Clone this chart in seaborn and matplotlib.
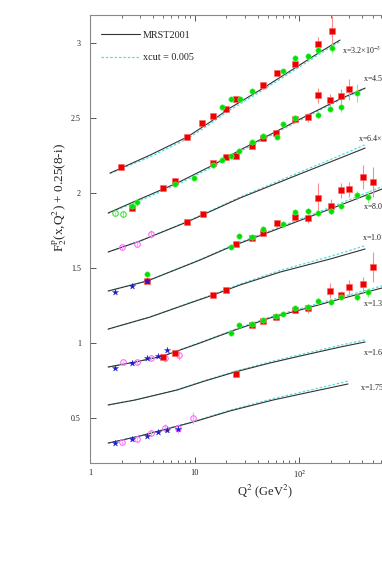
import matplotlib
matplotlib.use("Agg")
import matplotlib.pyplot as plt
import matplotlib.ticker as mticker
from matplotlib.lines import Line2D
import seaborn as sns

# MRST2001 curves (solid) and xcut = 0.005 curves (dashed), offset 0.25(8-i)
mrst_q1 = [1.55, 3.74, 8.44, 14.0, 21.7, 42.1, 81.3, 157, 244]
mrst_f1 = [2.135, 2.255, 2.375, 2.475, 2.569, 2.689, 2.815, 2.942, 3.022]
xcut_f1 = [2.132, 2.243, 2.362, 2.462, 2.556, 2.677, 2.803, 2.931, 3.012]

mrst_q2 = [1.49, 3.0, 6.8, 15.0, 27.1, 56, 126, 244, 424]
mrst_f2 = [1.869, 1.962, 2.069, 2.189, 2.289, 2.402, 2.529, 2.629, 2.702]
xcut_f2 = [1.866, 1.952, 2.058, 2.178, 2.279, 2.393, 2.521, 2.623, 2.698]

mrst_q3 = [1.49, 3.0, 8.44, 27.1, 101, 244, 424]
mrst_f3 = [1.609, 1.682, 1.809, 1.969, 2.129, 2.235, 2.302]
xcut_f3 = [1.609, 1.683, 1.812, 1.975, 2.141, 2.252, 2.324]

mrst_q4 = [1.49, 3.5, 11.2, 21.7, 65.3, 196, 615, 1000]
mrst_f4 = [1.349, 1.415, 1.555, 1.642, 1.769, 1.895, 2.029, 2.082]
xcut_f4 = [1.349, 1.416, 1.558, 1.647, 1.777, 1.906, 2.045, 2.099]

mrst_q5 = [1.49, 3.74, 9.02, 15.0, 27.1, 65.3, 196, 424]
mrst_f5 = [1.095, 1.175, 1.269, 1.322, 1.389, 1.475, 1.562, 1.629]
xcut_f5 = [1.095, 1.176, 1.272, 1.326, 1.395, 1.486, 1.579, 1.651]

mrst_q6 = [1.49, 2.69, 4.98, 11.2, 24.3, 52.4, 101, 244, 615, 1000]
mrst_f6 = [0.842, 0.875, 0.915, 1.002, 1.089, 1.169, 1.222, 1.295, 1.369, 1.402]
xcut_f6 = [0.842, 0.876, 0.917, 1.005, 1.094, 1.176, 1.231, 1.306, 1.383, 1.417]

mrst_q7 = [1.49, 2.69, 6.8, 12.5, 24.3, 52.4, 101, 244, 424]
mrst_f7 = [0.589, 0.622, 0.689, 0.749, 0.809, 0.869, 0.915, 0.975, 1.009]
xcut_f7 = [0.589, 0.623, 0.691, 0.752, 0.814, 0.876, 0.924, 0.987, 1.023]

mrst_q8 = [1.49, 3.0, 9.64, 21.7, 56, 126, 291]
mrst_f8 = [0.335, 0.382, 0.475, 0.549, 0.622, 0.675, 0.729]
xcut_f8 = [0.335, 0.383, 0.478, 0.554, 0.631, 0.688, 0.748]

bin_labels = ["x=3.2×10$^{-3}$", "x=4.5×10$^{-3}$", "x=6.4×10$^{-3}$", "x=8.0×10$^{-3}$",
              "x=1.0×10$^{-2}$", "x=1.3×10$^{-2}$", "x=1.6×10$^{-2}$", "x=1.75×10$^{-2}$"]
label_pos = [(255, 2.955), (405, 2.769), (363, 2.369), (405, 1.915),
             (396, 1.709), (405, 1.269), (405, 0.942), (379, 0.709)]

# H1 (red squares)
h1_q = [1.98, 8.44, 11.7, 15.0, 19.9, 24.8, 44.9, 61.1, 90.8, 151, 205,
        2.52, 4.98, 6.48, 15.0, 19.9, 24.8, 35.3, 44.9, 59.8, 90.8, 121, 151, 196, 250, 298,
        8.44, 12.0,
        3.50, 24.8, 35.3, 44.9, 61.1, 90.8, 121, 151, 200, 250, 298, 405, 505,
        15.0, 19.9,
        4.98, 6.48, 35.3, 44.9, 59.8, 90.8, 121, 196, 250, 298, 405, 505,
        24.8]
h1_f = [2.175, 2.375, 2.469, 2.515, 2.562, 2.629, 2.722, 2.802, 2.862, 2.995, 3.082,
        1.902, 2.035, 2.082, 2.202, 2.242, 2.249, 2.315, 2.369, 2.402, 2.495, 2.509, 2.655, 2.622, 2.649, 2.695,
        1.809, 1.862,
        1.415, 1.662, 1.702, 1.735, 1.802, 1.842, 1.835, 1.969, 1.915, 2.022, 2.029, 2.109, 2.075,
        1.322, 1.355,
        0.909, 0.935, 1.122, 1.149, 1.175, 1.222, 1.235, 1.349, 1.322, 1.375, 1.395, 1.509,
        0.795]
h1_err = [0.02, 0.015, 0.015, 0.015, 0.015, 0.015, 0.02, 0.02, 0.02, 0.05, 0.1,
          0.02, 0.015, 0.015, 0.015, 0.015, 0.015, 0.015, 0.015, 0.02, 0.02, 0.03, 0.05, 0.04, 0.05, 0.07,
          0.015, 0.015,
          0.015, 0.015, 0.015, 0.015, 0.02, 0.02, 0.03, 0.1, 0.05, 0.05, 0.05, 0.08, 0.1,
          0.015, 0.015,
          0.015, 0.015, 0.015, 0.015, 0.02, 0.02, 0.03, 0.05, 0.03, 0.05, 0.05, 0.1,
          0.015]

# ZEUS (green circles)
zeus_q = [18.2, 22.2, 27.1, 35.3, 69.7, 90.8, 121, 151, 205,
          2.52, 2.81, 6.48, 9.84, 15.0, 18.2, 22.2, 26.5, 35.3, 44.9, 61.1, 69.7, 90.8, 151, 196, 250, 355,
          3.50, 22.2, 26.5, 35.3, 44.9, 69.7, 90.8, 121, 151, 200, 250, 355, 452,
          22.2, 26.5, 35.3, 44.9, 59.8, 69.7, 90.8, 121, 151, 200, 250, 355, 452]
zeus_f = [2.575, 2.629, 2.629, 2.682, 2.815, 2.902, 2.915, 2.955, 2.969,
          1.915, 1.942, 2.062, 2.102, 2.189, 2.222, 2.249, 2.282, 2.342, 2.382, 2.375, 2.462, 2.502, 2.522, 2.562, 2.575, 2.669,
          1.462, 1.642, 1.715, 1.709, 1.762, 1.795, 1.875, 1.882, 1.869, 1.882, 1.915, 1.989, 1.975,
          1.069, 1.122, 1.129, 1.155, 1.182, 1.195, 1.235, 1.242, 1.282, 1.275, 1.309, 1.309, 1.342]
zeus_err = [0.015, 0.015, 0.015, 0.015, 0.015, 0.02, 0.02, 0.02, 0.03,
            0.015, 0.025, 0.015, 0.015, 0.015, 0.015, 0.015, 0.015, 0.015, 0.015, 0.015, 0.015, 0.02, 0.02, 0.02, 0.03, 0.06,
            0.015, 0.015, 0.015, 0.015, 0.015, 0.015, 0.015, 0.02, 0.02, 0.02, 0.02, 0.03, 0.04,
            0.015, 0.015, 0.015, 0.015, 0.015, 0.015, 0.015, 0.02, 0.02, 0.02, 0.02, 0.03, 0.03]

# E665 (blue stars)
e665_q = [1.73, 2.52, 3.50, 1.73, 2.52, 3.50, 4.46, 5.44, 1.73, 2.52, 3.50, 4.46, 5.44, 6.92]
e665_f = [1.342, 1.382, 1.415, 0.835, 0.869, 0.902, 0.915, 0.955, 0.335, 0.362, 0.382, 0.409, 0.422, 0.429]

# NMC (magenta open symbols)
nmc_q = [2.02, 2.81, 3.83, 2.07, 2.81, 3.83, 5.20, 7.08, 2.02, 2.81, 3.83, 5.20, 6.92, 9.64]
nmc_f = [1.642, 1.662, 1.729, 0.875, 0.875, 0.902, 0.902, 0.922, 0.342, 0.362, 0.402, 0.435, 0.435, 0.502]
nmc_err = [0.01, 0.012, 0.025, 0.01, 0.012, 0.015, 0.025, 0.03, 0.01, 0.012, 0.02, 0.025, 0.03, 0.04]

# low-Q green open symbols on the second bin
slac_q = [1.73, 2.07]
slac_f = [1.869, 1.862]
slac_err = [0.01, 0.02]

sns.set_style("ticks")
plt.rcParams['font.family'] = ['Liberation Serif', 'DejaVu Serif']
plt.rcParams['mathtext.fontset'] = 'stix'

fig = plt.figure(figsize=(3.82, 5.61), dpi=100)
ax = fig.add_axes([0.2356, 0.1752, 0.8223, 0.798])

mrst_q = [mrst_q1, mrst_q2, mrst_q3, mrst_q4, mrst_q5, mrst_q6, mrst_q7, mrst_q8]
mrst_f = [mrst_f1, mrst_f2, mrst_f3, mrst_f4, mrst_f5, mrst_f6, mrst_f7, mrst_f8]
xcut_f = [xcut_f1, xcut_f2, xcut_f3, xcut_f4, xcut_f5, xcut_f6, xcut_f7, xcut_f8]

for q, f, fc in zip(mrst_q, mrst_f, xcut_f):
    sns.lineplot(x=q, y=fc, ax=ax, color='#55dede', lw=0.9, linestyle=(0, (2, 1.5)),
                 estimator=None, sort=False)
    sns.lineplot(x=q, y=f, ax=ax, color='#333333', lw=0.8, estimator=None, sort=False)

for txt, (qx, fy) in zip(bin_labels, label_pos):
    ax.text(qx, fy, txt, fontsize=5.8, ha='left', va='center', color='#222222')

# error bars
ax.errorbar(h1_q, h1_f, yerr=h1_err, fmt='none', ecolor='#ff8c8c', elinewidth=0.8, zorder=3)
ax.errorbar(zeus_q, zeus_f, yerr=zeus_err, fmt='none', ecolor='#8cf08c', elinewidth=0.8, zorder=3)
ax.errorbar(nmc_q, nmc_f, yerr=nmc_err, fmt='none', ecolor='#ff9cff', elinewidth=0.8, zorder=3)
ax.errorbar(slac_q, slac_f, yerr=slac_err, fmt='none', ecolor='#8cf08c', elinewidth=0.8, zorder=3)

sns.scatterplot(x=h1_q, y=h1_f, ax=ax, marker='s', color='#ee0000', s=22,
                edgecolor='#ff6060', linewidth=0.4, zorder=5)
sns.scatterplot(x=zeus_q, y=zeus_f, ax=ax, marker='o', color='#00e000', s=15,
                edgecolor='#60f060', linewidth=0.4, zorder=5)
sns.scatterplot(x=e665_q, y=e665_f, ax=ax, marker='*', color='#1a1acc', s=22,
                edgecolor='#1a1acc', linewidth=0.2, zorder=5)
ax.plot(nmc_q, nmc_f, ls='none', marker='o', ms=4, mfc='none', mec='#ff66ff', mew=0.8, zorder=4)
ax.plot(slac_q, slac_f, ls='none', marker='o', ms=4, mfc='none', mec='#44dd44', mew=0.8, zorder=4)

ax.set_xscale('log')
ax.set_xlim(1, 1000)
ax.set_ylim(0.204, 3.189)

ax.xaxis.set_major_locator(mticker.FixedLocator([1, 10, 100]))
ax.xaxis.set_major_formatter(mticker.FixedFormatter(['1', '10', '10$^2$']))
ax.xaxis.set_minor_locator(mticker.LogLocator(base=10, subs=range(2, 10), numticks=20))
ax.xaxis.set_minor_formatter(mticker.NullFormatter())
ax.set_yticks([0.5, 1, 1.5, 2, 2.5, 3])
ax.set_yticklabels(['0.5', '1', '1.5', '2', '2.5', '3'])

ax.tick_params(which='both', direction='in', top=True, right=True, colors='#555555')
ax.tick_params(axis='x', which='major', length=4.3, width=0.7, labelsize=6, pad=4.5, labelcolor='#222222')
ax.tick_params(axis='x', which='minor', length=2.2, width=0.6)
ax.tick_params(axis='y', which='major', length=4.3, width=0.7, labelsize=5.8, pad=6.5, labelcolor='#222222')
ax.tick_params(axis='y', which='minor', length=0)
for sp in ax.spines.values():
    sp.set_color('#888888')
    sp.set_linewidth(0.8)

ax.set_xlabel('Q$^2$ (GeV$^2$)', fontsize=9)
ax.xaxis.set_label_coords(0.557, -0.043)
ax.set_ylabel('F$_2^{\\rm p}$(x,Q$^2$) + 0.25(8-i)', fontsize=9.5)
ax.yaxis.set_label_coords(-0.067, 0.593)

handles = [Line2D([], [], color='#333333', lw=0.8),
           Line2D([], [], color='#55dede', lw=0.9, linestyle=(0, (2, 1.5)))]
ax.legend(handles, ['MRST2001', 'xcut = 0.005'], loc='upper left', bbox_to_anchor=(0.035, 0.965),
          frameon=False, fontsize=7.3, handlelength=3.8, handletextpad=0.3, labelspacing=1.3,
          borderpad=0, borderaxespad=0)

fig.savefig('out.png', dpi=100)
